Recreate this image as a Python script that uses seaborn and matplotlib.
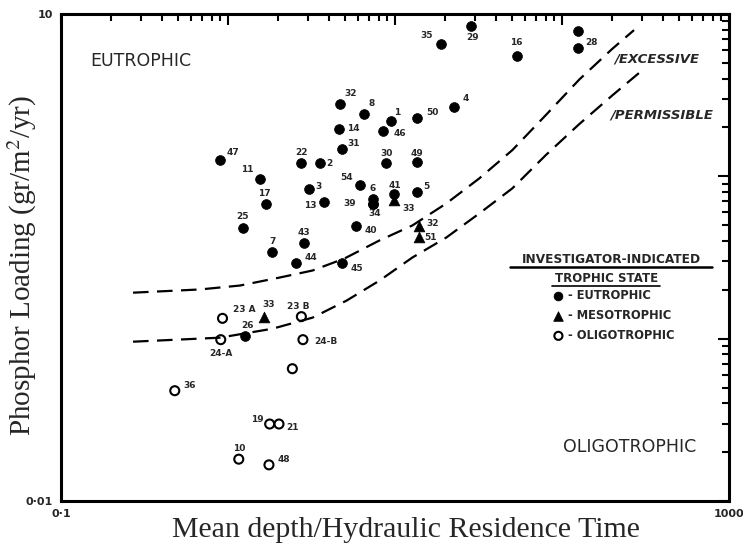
import numpy as np
import pandas as pd
import matplotlib
matplotlib.use("Agg")
import matplotlib.pyplot as plt
import seaborn as sns
from matplotlib.ticker import FixedLocator, LogLocator, NullFormatter, FixedFormatter
from matplotlib.lines import Line2D

# ---------------- data ----------------
eu_labels = ["47", "11", "17", "25", "7", "22", "2", "3", "13", "43", "44", "32", "8", "14",
             "31", "1", "46", "50", "4", "30", "49", "54", "6", "39", "34", "41", "5", "40",
             "45", "35", "29", "16", "", "28", "26"]
eu_x = [0.893, 1.548, 1.682, 1.230, 1.845, 2.750, 3.537, 3.040, 3.737, 2.849, 2.567, 4.658,
        6.509, 4.613, 4.834, 9.49, 8.45, 13.50, 22.69, 8.86, 13.57, 6.13, 7.37, 7.37, 7.37,
        9.80, 13.50, 5.86, 4.83, 18.89, 28.55, 53.5, 125.1, 125.1, 1.271]
eu_y = [1.268, 0.968, 0.672, 0.480, 0.344, 1.208, 1.208, 0.840, 0.694, 0.388, 0.294, 2.771,
        2.438, 1.950, 1.483, 2.177, 1.896, 2.280, 2.656, 1.208, 1.220, 0.880, 0.72, 0.68, 0.68,
        0.774, 0.797, 0.491, 0.2915, 6.53, 8.47, 5.53, 7.85, 6.14, 0.1033]

meso_labels = ["33", "32", "51", "33"]
meso_x = [9.80, 14.01, 14.01, 1.636]
meso_y = [0.711, 0.492, 0.422, 0.1353]

oligo_labels = ["23 A", "24-A", "23 B", "24-B", "", "36", "19", "21", "10", "48"]
oligo_x = [0.927, 0.905, 2.75, 2.81, 2.429, 0.480, 1.776, 2.020, 1.160, 1.759]
oligo_y = [0.1334, 0.0986, 0.1367, 0.0986, 0.0653, 0.0478, 0.0298, 0.0298, 0.0181, 0.0167]

excessive_x = [0.27, 0.68, 1.18, 2.04, 3.21, 4.99, 8.08, 12.7, 20.3, 32.0, 50.4, 80.5, 127, 200, 270]
excessive_y = [0.192, 0.201, 0.2125, 0.238, 0.263, 0.312, 0.403, 0.498, 0.681, 0.972, 1.45,
               2.40, 3.95, 6.10, 7.96]
permissible_x = [0.27, 0.893, 1.85, 3.21, 5.13, 8.08, 12.7, 20.3, 32.0, 50.4, 80.5, 127, 200, 310]
permissible_y = [0.0958, 0.1014, 0.1152, 0.1348, 0.1716, 0.228, 0.316, 0.420, 0.591, 0.843,
                 1.36, 2.10, 3.15, 4.60]

xtick_values = [0.1, 1, 10, 100, 1000]
xtick_labels = ["0\u00b71", "", "", "", "1000"]
ytick_values = [0.01, 0.1, 1, 10]
ytick_labels = ["0\u00b701", "", "", "10"]

legend_labels = ["- EUTROPHIC", "- MESOTROPHIC", "- OLIGOTROPHIC"]

# label offsets (pixels) -- layout only
eu_off = [(13, -7), (-12, -9), (-1, -11), (-1, -12), (0, -10), (0, -11), (10, 0), (10, -2),
          (-13, 3), (0, -11), (15, -5), (11, -11), (8, -10), (14, -1), (11, -5), (6, -9),
          (17, 2), (16, -6), (11, -9), (0, -10), (0, -9), (-13, -8), (0, -11), (-23, 0),
          (2, 10), (1, -9), (10, -6), (15, 4), (15, 5), (-15, -9), (1, 12), (0, -13), (0, 0),
          (13, -6), (2, -11)]
meso_off = [(15, 8), (13, -3), (11, 0), (5, -13)]
oligo_off = [(22, -9), (0, 14), (-3, -10), (23, 2), (0, 0), (15, -5), (-12, -5), (14, 3),
             (0, -11), (15, -5)]

# ---------------- figure ----------------
sns.set_style("white")
plt.rcParams["font.family"] = ["DejaVu Sans"]
plt.rcParams["mathtext.fontset"] = "stix"

fig = plt.figure(figsize=(7.43, 5.45), dpi=100)
ax = fig.add_axes([61 / 743, 1 - 501 / 545, 668 / 743, 487 / 545])
ax.set_xscale("log")
ax.set_yscale("log")

dash = (0, (7, 3.8))
sns.lineplot(x=excessive_x, y=excessive_y, ax=ax, color="black", lw=1.6,
             linestyle=dash, sort=False, estimator=None)
sns.lineplot(x=permissible_x, y=permissible_y, ax=ax, color="black", lw=1.6,
             linestyle=dash, sort=False, estimator=None)

sns.scatterplot(x=eu_x, y=eu_y, ax=ax, marker="o", s=50, color="black",
                edgecolor="black", linewidth=0.5, label=legend_labels[0], zorder=3)
sns.scatterplot(x=meso_x, y=meso_y, ax=ax, marker="^", s=60, color="black",
                edgecolor="black", linewidth=0.5, label=legend_labels[1], zorder=3)
sns.scatterplot(x=oligo_x, y=oligo_y, ax=ax, marker="o", s=42, facecolors="none",
                edgecolor="black", linewidth=1.5, label=legend_labels[2], zorder=3)
ax.collections[-1].set_facecolor("none")

lab_kw = dict(fontsize=6.5, fontweight="bold", ha="center", va="center",
              textcoords="offset points")
for labs, xs, ys, offs in [(eu_labels, eu_x, eu_y, eu_off),
                           (meso_labels, meso_x, meso_y, meso_off),
                           (oligo_labels, oligo_x, oligo_y, oligo_off)]:
    for t, xv, yv, (dx, dy) in zip(labs, xs, ys, offs):
        if t:
            ax.annotate(t, (xv, yv), xytext=(dx * 0.72, -dy * 0.72), **lab_kw)

ax.set_xlim(0.1, 1000)
ax.set_ylim(0.01, 10)

ax.xaxis.set_major_locator(FixedLocator(xtick_values))
ax.xaxis.set_major_formatter(FixedFormatter(xtick_labels))
ax.xaxis.set_minor_locator(LogLocator(base=10, subs=np.arange(2, 10)))
ax.xaxis.set_minor_formatter(NullFormatter())
ax.yaxis.set_major_locator(FixedLocator(ytick_values))
ax.yaxis.set_major_formatter(FixedFormatter(ytick_labels))
ax.yaxis.set_minor_locator(LogLocator(base=10, subs=np.arange(2, 10)))
ax.yaxis.set_minor_formatter(NullFormatter())
ax.tick_params(which="both", direction="in", top=True, right=True, width=1.5,
               color="black", labelsize=8)
ax.tick_params(which="major", length=8, pad=6)
ax.tick_params(which="minor", length=5)
for lab in ax.get_xticklabels() + ax.get_yticklabels():
    lab.set_fontweight("bold")
for sp in ax.spines.values():
    sp.set_linewidth(2.2)
    sp.set_color("black")

ax.set_xlabel("Mean depth/Hydraulic Residence Time", fontsize=21.5,
              family="Liberation Serif")
ax.set_ylabel("Phosphor Loading (gr/m$^2$/yr)", fontsize=21,
              family="Liberation Serif")
ax.xaxis.set_label_coords(0.517, -0.0595)
ax.xaxis.label.set_verticalalignment("center")
ax.yaxis.set_label_coords(-0.0584, 0.4846)
ax.yaxis.label.set_verticalalignment("center")

# region annotations
ax.text(0.0434, 0.9035, "EUTROPHIC", transform=ax.transAxes, fontsize=12.5,
        ha="left", va="center")
ax.text(0.7515, 0.111, "OLIGOTROPHIC", transform=ax.transAxes, fontsize=12.5,
        ha="left", va="center")
ax.text(0.829, 0.9076, "/EXCESSIVE", transform=ax.transAxes, fontsize=9.5,
        fontweight="bold", style="italic", ha="left", va="center")
ax.text(0.822, 0.7926, "/PERMISSIBLE", transform=ax.transAxes, fontsize=9.5,
        fontweight="bold", style="italic", ha="left", va="center")

# legend
ax.text(0.824, 0.495, "INVESTIGATOR-INDICATED", transform=ax.transAxes, fontsize=8.7,
        fontweight="bold", ha="center", va="center")
ax.add_line(Line2D([0.672, 0.975], [0.4805, 0.4805], transform=ax.transAxes,
                   color="black", lw=1.8))
ax.text(0.816, 0.456, "TROPHIC STATE", transform=ax.transAxes, fontsize=8.5,
        fontweight="bold", ha="center", va="center")
ax.add_line(Line2D([0.735, 0.897], [0.4415, 0.4415], transform=ax.transAxes,
                   color="black", lw=1.2))
handles, labels = ax.get_legend_handles_labels()
leg = ax.legend(handles, labels, loc="center left", bbox_to_anchor=(0.736, 0.381),
                frameon=False, borderpad=0, borderaxespad=0, handlelength=1.0,
                handletextpad=0.3, labelspacing=0.6, prop={"size": 8.3, "weight": "bold"},
                markerscale=0.9)

fig.savefig("out.png", dpi=100, facecolor="white")
